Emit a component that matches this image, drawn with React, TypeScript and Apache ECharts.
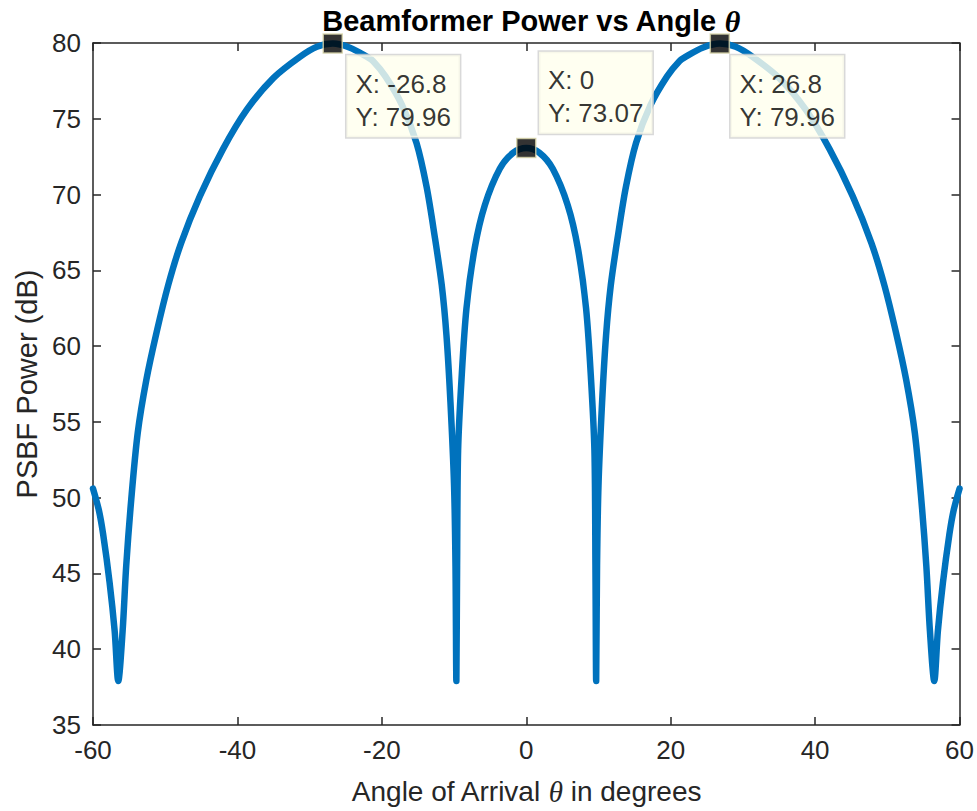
import React, { useEffect, useRef } from "react";
import * as echarts from "echarts";

// Angle of arrival (degrees) and beamformer power (dB)
const theta: number[] = [
  -60, -59.2, -58.6, -57.7, -57.0, -56.5, -55.9, -55.4, -54.7, -53.8, -52.6, -51.2,
  -49.6, -47.8, -45.2, -42.0, -38.7, -35.0, -31.3, -29.0, -26.8, -24.5, -22.1, -21.2,
  -19.5, -17.2, -15.2, -13.8, -12.7, -11.7, -11.05, -10.5, -10.0, -9.8, -9.68, -9.58,
  -9.44, -8.97, -8.28, -7.13, -5.74, -3.67, -1.83, 0,
  1.83, 3.67, 5.74, 7.13, 8.28, 8.97, 9.44, 9.58, 9.68, 9.8, 10.0, 10.5, 11.05, 11.7,
  12.7, 13.8, 15.2, 17.2, 19.5, 21.2, 22.1, 24.5, 26.8, 29.0, 31.3, 35.0, 38.7, 42.0,
  45.2, 47.8, 49.6, 51.2, 52.6, 53.8, 54.7, 55.4, 55.9, 56.5, 57.0, 57.7, 58.6, 59.2, 60,
];
const power: number[] = [
  50.6, 49.2, 47.6, 44.4, 41.2, 37.9, 41.2, 45.5, 49.9, 54.3, 57.8, 60.9,
  64.0, 66.8, 69.9, 73.0, 75.6, 77.7, 79.1, 79.75, 79.96, 79.7, 79.1, 78.8,
  77.8, 75.9, 73.4, 70.5, 67.3, 64.0, 60.7, 56.3, 50.8, 45.5, 37.9, 45.5,
  53.1, 57.8, 62.5, 66.5, 69.3, 71.7, 72.75, 73.07,
  72.75, 71.7, 69.3, 66.5, 62.5, 57.8, 53.1, 45.5, 37.9, 45.5, 50.8, 56.3, 60.7, 64.0,
  67.3, 70.5, 73.4, 75.9, 77.8, 78.8, 79.1, 79.7, 79.96, 79.75, 79.1, 77.7, 75.6, 73.0,
  69.9, 66.8, 64.0, 60.9, 57.8, 54.3, 49.9, 45.5, 41.2, 37.9, 41.2, 44.4, 47.6, 49.2, 50.6,
];

// Data tips
const tipX: number[] = [-26.8, 0, 26.8];
const tipY: number[] = [79.96, 73.07, 79.96];
const tipLabelOffset: number[][] = [[24, 22], [23, -86], [21, 22]];

const xTicks = { min: -60, max: 60, interval: 20 };
const yTicks = { min: 35, max: 80, interval: 5 };

const AXIS = "#262626";
const FONT = "Liberation Sans, Arial, Helvetica, sans-serif";
const SERIF = "Liberation Serif, Times New Roman, serif";

export default function App() {
  const ref = useRef<HTMLDivElement>(null);
  useEffect(() => {
    if (!ref.current) return;
    const chart = echarts.init(ref.current, undefined, { renderer: "svg" });
    const lineData = theta.map((t, i) => [t, power[i]]);
    const tipData = tipX.map((x, i) => ({
      value: [x, tipY[i]],
      label: { position: tipLabelOffset[i] },
    }));
    const tickLabel = { color: AXIS, fontFamily: FONT, fontSize: 26 };
    const axisLine = { show: true, onZero: false, lineStyle: { color: AXIS, width: 1.5 } };
    const axisTick = { show: true, inside: true, length: 8, lineStyle: { color: AXIS, width: 1.5 } };
    chart.setOption({
      animation: false,
      backgroundColor: "#ffffff",
      title: {
        text: "{b|Beamformer Power vs Angle }{t|θ}",
        left: 526,
        top: 1,
        textAlign: "center",
        textStyle: {
          rich: {
            b: { fontFamily: FONT, fontWeight: "bold", fontSize: 29, color: "#000" },
            t: { fontFamily: SERIF, fontStyle: "italic", fontWeight: "bold", fontSize: 30, color: "#000" },
          },
        },
      },
      grid: { left: 93, right: 17, top: 43, bottom: 84, containLabel: false },
      xAxis: [
        {
          type: "value",
          ...xTicks,
          position: "bottom",
          name: "Angle of Arrival {t|θ} in degrees",
          nameLocation: "middle",
          nameGap: 52,
          nameTextStyle: {
            color: AXIS,
            fontFamily: FONT,
            fontSize: 28,
            rich: { t: { fontFamily: SERIF, fontStyle: "italic", fontSize: 29, color: AXIS } },
          },
          axisLine,
          axisTick,
          axisLabel: { ...tickLabel, margin: 12 },
          splitLine: { show: false },
        },
        {
          type: "value",
          ...xTicks,
          position: "top",
          axisLine,
          axisTick,
          axisLabel: { show: false },
          splitLine: { show: false },
        },
      ],
      yAxis: [
        {
          type: "value",
          ...yTicks,
          position: "left",
          name: "PSBF Power (dB)",
          nameLocation: "middle",
          nameGap: 49,
          nameTextStyle: { color: AXIS, fontFamily: FONT, fontSize: 29 },
          axisLine,
          axisTick,
          axisLabel: { ...tickLabel, margin: 12 },
          splitLine: { show: false },
        },
        {
          type: "value",
          ...yTicks,
          position: "right",
          axisLine,
          axisTick,
          axisLabel: { show: false },
          splitLine: { show: false },
        },
      ],
      series: [
        {
          type: "line",
          data: lineData,
          xAxisIndex: 0,
          yAxisIndex: 0,
          showSymbol: false,
          smooth: 0.3,
          clip: true,
          lineStyle: { color: "#0072BD", width: 6.5, cap: "round", join: "round" },
          z: 2,
        },
        {
          type: "scatter",
          data: tipData,
          xAxisIndex: 0,
          yAxisIndex: 0,
          symbol: "rect",
          symbolSize: 19,
          itemStyle: { color: "#000000", borderColor: "#d8d4a8", borderWidth: 1.5 },
          z: 5,
          label: {
            show: true,
            formatter: (p: any) => `X: ${p.value[0]}\nY: ${p.value[1]}`,
            align: "left",
            verticalAlign: "top",
            fontFamily: FONT,
            fontSize: 26,
            lineHeight: 33,
            color: "#000",
            backgroundColor: "#FFFFEE",
            borderColor: "#cfcfcf",
            borderWidth: 1.5,
            padding: [12, 9, 4, 9],
          },
        },
      ],
    });
    return () => chart.dispose();
  }, []);
  return (
    <div
      ref={ref}
      style={{ position: "fixed", left: 0, top: 0, width: 977, height: 811, background: "#fff" }}
    />
  );
}
